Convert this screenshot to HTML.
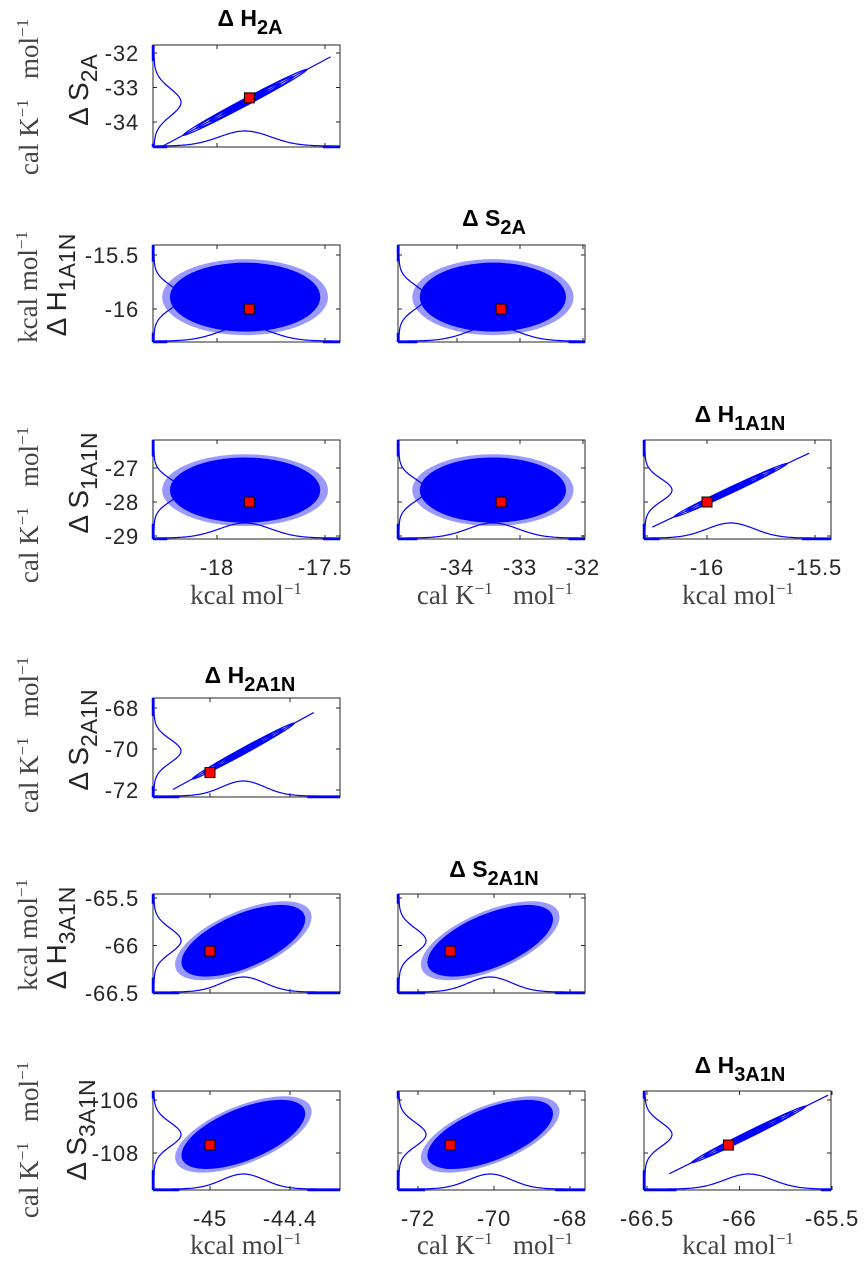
<!DOCTYPE html>
<html><head><meta charset="utf-8"><style>
html,body{margin:0;padding:0;background:#fff;}
svg{display:block;}
.tk{font-family:"Liberation Sans",sans-serif;font-size:22px;letter-spacing:0.8px;fill:#262626;}
.ttl{font-family:"Liberation Sans",sans-serif;font-size:23px;font-weight:bold;fill:#000;}
.yl{font-family:"Liberation Sans",sans-serif;font-size:28px;fill:#262626;}
.un{font-family:"Liberation Serif",serif;font-size:27px;fill:#444;}
</style></head><body>
<svg id="fig" width="868" height="1266" viewBox="0 0 868 1266" xmlns="http://www.w3.org/2000/svg"></svg>
<script>
// ---- data ----
const groupAVars = ['H2A','S2A','H1A1N','S1A1N'];
const groupAMeans = [-17.87, -33.43, -15.89, -27.65];
const groupASds = [0.12, 0.40, 0.11, 0.33];
const groupAEst = [-17.85, -33.30, -16.0, -28.0];
const groupACorr = [[1,0.996,0,0],[0.996,1,0,0],[0,0,1,0.996],[0,0,0.996,1]];
const groupBVars = ['H2A1N','S2A1N','H3A1N','S3A1N'];
const groupBMeans = [-44.75, -70.1, -65.95, -107.3];
const groupBSds = [0.16, 0.57, 0.13, 0.45];
const groupBEst = [-45.0, -71.15, -66.06, -107.7];
const groupBCorr = [[1,0.996,0.6,0.6],[0.996,1,0.6,0.6],[0.6,0.6,1,0.996],[0.6,0.6,0.996,1]];
const groupAXTicks = [[-18,-17.5],[-34,-33,-32],[-16,-15.5]];
const groupAYTicks = [[-32,-33,-34],[-15.5,-16],[-27,-28,-29]];
const groupBXTicks = [[-45,-44.4],[-72,-70,-68],[-66.5,-66,-65.5]];
const groupBYTicks = [[-68,-70,-72],[-65.5,-66,-66.5],[-106,-108]];

// ---- layout (pixel calibration of axes) ----
const colBox=[[153,340],[398,585],[644,831]];
const rowBox=[[45,147],[245,342],[440,539],[698,797],[894,993],[1091,1190]];
const xCal=[
 [[-18,217],[-17.5,325]], [[-34,457],[-33,520]], [[-16,707],[-15.5,815]],
 [[-45,210],[-44.4,290]], [[-72,418],[-70,494]], [[-66.5,647],[-65.5,832]]
];
const yCal=[
 [[-32,53],[-34,122]], [[-15.5,255],[-16,309]], [[-27,468],[-29,536]],
 [[-68,708],[-72,790]], [[-65.5,898],[-66.5,993]], [[-106,1100],[-108,1153]]
];
const NS='http://www.w3.org/2000/svg';
const svg=document.getElementById('fig');
function mk(tag,attrs,parent){const e=document.createElementNS(NS,tag);for(const k in attrs)e.setAttribute(k,attrs[k]);(parent||svg).appendChild(e);return e;}
function lin(cal){const [a,b]=cal;const k=(b[1]-a[1])/(b[0]-a[0]);const f=v=>a[1]+(v-a[0])*k;f.k=k;return f;}

function drawPanel(r, c, gi, xi, yi, means, sds, est, corr, showX, showY, xt, yt){
  const [x0,x1]=colBox[c]; const [y0,y1]=rowBox[r];
  const xs=lin(xCal[gi*3+c]); const ys=lin(yCal[r]);
  const grp=mk('g',{});
  
  
  const cid='clip'+r+c;
  const cp=mk('clipPath',{id:cid},grp); mk('rect',{x:x0,y:y0,width:x1-x0,height:y1-y0},cp);
  const inner=mk('g',{'clip-path':'url(#'+cid+')'},grp);
  const mx=xs(means[xi]), my=ys(means[yi]);
  const sx=sds[xi]*Math.abs(xs.k), sy=sds[yi]*Math.abs(ys.k);
  const rho=corr[xi][yi];
  const a=sx*sx, d=sy*sy, b=-rho*sx*sy;
  const tr=(a+d)/2, disc=Math.sqrt(((a-d)/2)**2+b*b);
  const l1=Math.sqrt(tr+disc), l2=Math.sqrt(Math.max(tr-disc,0.5));
  const ang=0.5*Math.atan2(2*b,a-d)*180/Math.PI;
  const tf='translate('+mx+','+my+') rotate('+ang+')';
  if(rho>0.95){
    const ln=mk('line',{x1:-3.3*l1,y1:0,x2:3.3*l1,y2:0,stroke:'#0000ff','stroke-width':1.2,transform:tf},inner);
    
    
    [0.9,1.4,1.9,2.4].forEach(s=>{
      const e=mk('ellipse',{cx:0,cy:0,rx:s*l1,ry:s*l2+0.8,fill:'none',stroke:'#0000ff','stroke-width':1.2,transform:tf},inner);
      
      
    });
    mk('ellipse',{cx:0,cy:0,rx:1.0*l1,ry:1.0*l2+1,fill:'#0000ff',transform:tf},inner);
  } else {
    const e2=mk('ellipse',{cx:0,cy:0,rx:3.2*l1,ry:3.2*l2,fill:'#0000ff',opacity:0.4,transform:tf},inner);
    
    
    const e=mk('ellipse',{cx:0,cy:0,rx:2.9*l1,ry:2.9*l2,fill:'#0000ff',transform:tf},inner);
    
    
  }
  let pL='', pB='';
  for(let y=y0;y<=y1;y+=1){const z=(y-my)/sy;const v=Math.exp(-0.5*z*z);pL+=(y===y0?'M':'L')+(x0+1+27*v).toFixed(1)+','+y;}
  for(let x=x0;x<=x1;x+=1){const z=(x-mx)/sx;const v=Math.exp(-0.5*z*z);pB+=(x===x0?'M':'L')+x+','+(y1-1-15*v).toFixed(1);}
  const dl=mk('path',{d:pL,fill:'none',stroke:'#0000ff','stroke-width':1.2},inner);
  
  
  const db=mk('path',{d:pB,fill:'none',stroke:'#0000ff','stroke-width':1.2},inner);
  
  
  const bx=mk('rect',{x:x0,y:y0,width:x1-x0,height:y1-y0,fill:'none',stroke:'#262626','stroke-width':1},grp);
  
  
  const thick=(p,q,horiz)=>{if(q<=p)return;mk('line',horiz?{x1:p,y1:y1,x2:q,y2:y1,stroke:'#0000ff','stroke-width':2.5}:{x1:x0,y1:p,x2:x0,y2:q,stroke:'#0000ff','stroke-width':2.5},grp);};
  thick(x0,Math.min(x1,mx-3*sx),true); thick(Math.max(x0,mx+3*sx),x1,true);
  thick(y0,Math.min(y1,my-3*sy),false); thick(Math.max(y0,my+3*sy),y1,false);
  xt.forEach(v=>{const X=xs(v);mk('line',{x1:X,y1:y0,x2:X,y2:y0+4,stroke:'#262626'},grp);mk('line',{x1:X,y1:y1,x2:X,y2:y1-4,stroke:'#262626'},grp);
    if(showX){const t=mk('text',{x:X,y:y1+36,'text-anchor':'middle',class:'tk'},grp);t.textContent=String(v);
      
      }});
  yt.forEach(v=>{const Y=ys(v);mk('line',{x1:x0,y1:Y,x2:x0+4,y2:Y,stroke:'#262626'},grp);mk('line',{x1:x1,y1:Y,x2:x1-4,y2:Y,stroke:'#262626'},grp);
    if(showY){const t=mk('text',{x:x0-14,y:Y+8,'text-anchor':'end',class:'tk'},grp);t.textContent=String(v);
      
      }});
  const m=mk('rect',{x:xs(est[xi])-5,y:ys(est[yi])-5,width:10,height:10,fill:'#ff0000',stroke:'#000','stroke-width':1},grp);
  
  
}

function drawGroup(gi,means,sds,est,corr,xT,yT){
  const rb=gi*3;
  for(let r=0;r<3;r++) for(let c=0;c<=r;c++){
    drawPanel(rb+r, c, gi, c, r+1, means, sds, est, corr, r===2, c===0, xT[c], yT[r]);
  }
}
drawGroup(0,groupAMeans,groupASds,groupAEst,groupACorr,groupAXTicks,groupAYTicks);
drawGroup(1,groupBMeans,groupBSds,groupBEst,groupBCorr,groupBXTicks,groupBYTicks);

function title(x,y,main,sub,name){
  const t=mk('text',{x:x,y:y,'text-anchor':'middle',class:'ttl'});
  
  
  const a=mk('tspan',{},t);a.textContent=main;
  const b=mk('tspan',{dy:8,'font-size':'20'},t);b.textContent=sub;
}
title(250,26,'Δ H','2A','title-h2a');
title(494,226,'Δ S','2A','title-s2a');
title(740,422,'Δ H','1A1N','title-h1a1n');
title(250,683,'Δ H','2A1N','title-h2a1n');
title(494,877,'Δ S','2A1N','title-s2a1n');
title(740,1073,'Δ H','3A1N','title-h3a1n');

function ylab(x,y,main,sub,name){
  const t=mk('text',{x:0,y:0,'text-anchor':'middle',class:'yl',transform:'translate('+x+','+y+') rotate(-90)'});
  
  
  const a=mk('tspan',{},t);a.textContent=main;
  const b=mk('tspan',{dy:9,'font-size':'23'},t);b.textContent=sub;
}
function unit(x,y,txt,name,rot){
  const t=mk('text',rot?{x:0,y:0,'text-anchor':'middle',class:'un',transform:'translate('+x+','+y+') rotate(-90)'}:{x:x,y:y,'text-anchor':'middle',class:'un'});
  
  
  txt.forEach(p=>{const s=mk('tspan',p[1]?{dy:p[1],'font-size':p[2]}:{},t);s.textContent=p[0];});
}
const calU=[['cal K'],['−1',-10,'17'],['\u00a0\u00a0 mol',10,'27'],['−1',-10,'17']];
const kcalU=[['kcal mol'],['−1',-10,'17']];
ylab(88,90,'Δ S','2A','ylabel-s2a');        unit(38,97,calU,'ylabel-unit-row1',true);
ylab(66,285,'Δ H','1A1N','ylabel-h1a1n');   unit(37,287,kcalU,'ylabel-unit-row2',true);
ylab(88,483,'Δ S','1A1N','ylabel-s1a1n');   unit(38,505,calU,'ylabel-unit-row3',true);
ylab(88,740,'Δ S','2A1N','ylabel-s2a1n');   unit(38,735,calU,'ylabel-unit-row4',true);
ylab(66,938,'Δ H','3A1N','ylabel-h3a1n');   unit(37,935,kcalU,'ylabel-unit-row5',true);
ylab(86,1130,'Δ S','3A1N','ylabel-s3a1n');  unit(38,1140,calU,'ylabel-unit-row6',true);

unit(246,604,kcalU,'xlabel-unit-col1-top',false);
unit(495,604,calU,'xlabel-unit-col2-top',false);
unit(738,604,kcalU,'xlabel-unit-col3-top',false);
unit(246,1254,kcalU,'xlabel-unit-col1-bottom',false);
unit(495,1254,calU,'xlabel-unit-col2-bottom',false);
unit(738,1254,kcalU,'xlabel-unit-col3-bottom',false);
</script>
</body></html>
